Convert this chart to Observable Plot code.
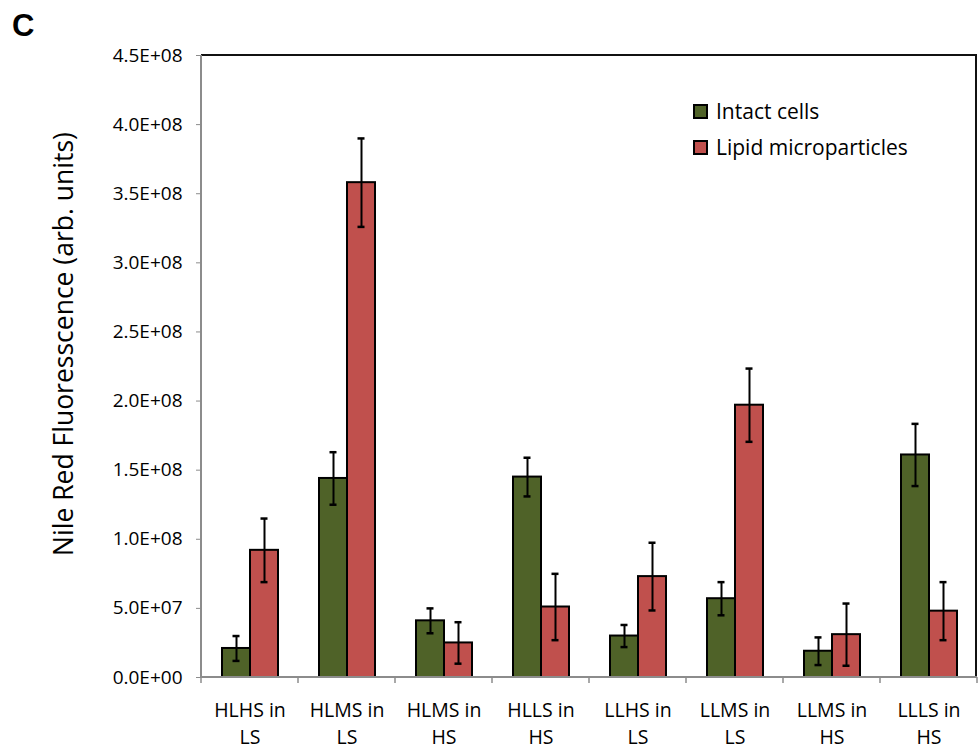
<!DOCTYPE html>
<html><head><meta charset="utf-8">
<script src="https://cdn.jsdelivr.net/npm/d3@7"></script>
<script src="https://cdn.jsdelivr.net/npm/@observablehq/plot@0.6"></script>
<style>
body{margin:0;background:#fff;}
#wrap{position:relative;width:979px;height:750px;font-family:"Open Sans",sans-serif;}
#panel{position:absolute;left:12px;top:8px;font:bold 31px "Liberation Sans",Arial,sans-serif;color:#000;}
#ylab{position:absolute;left:63px;top:344px;transform:translate(-50%,-50%) rotate(-90deg);white-space:nowrap;font-size:26.5px;color:#000;}
#legend{position:absolute;left:693px;top:93px;font-size:21px;color:#000;}
#legend .row{display:flex;align-items:center;height:36px;}
#legend .sw{width:11px;height:11px;border:2px solid #000;margin-right:8px;}
</style></head>
<body><div id="wrap"><div id="chart"></div><div id="panel">C</div><div id="ylab">Nile Red Fluoresscence (arb. units)</div><div id="legend"></div></div>
<script>
const categories = ["HLHS in LS","HLMS in LS","HLMS in HS","HLLS in HS","LLHS in LS","LLMS in LS","LLMS in HS","LLLS in HS"];
const tickLabels = ["HLHS in\nLS","HLMS in\nLS","HLMS in\nHS","HLLS in\nHS","LLHS in\nLS","LLMS in\nLS","LLMS in\nHS","LLLS in\nHS"];
const series = ["Intact cells","Lipid microparticles"];
const colors = ["#4F6228","#C0504D"];
const intact = [2.1e7, 1.44e8, 4.1e7, 1.45e8, 3.0e7, 5.7e7, 1.9e7, 1.61e8];
const intactErr = [0.9e7, 1.9e7, 0.9e7, 1.4e7, 0.8e7, 1.2e7, 1.0e7, 2.25e7];
const lipid = [9.2e7, 3.58e8, 2.5e7, 5.1e7, 7.3e7, 1.97e8, 3.1e7, 4.8e7];
const lipidErr = [2.3e7, 3.2e7, 1.5e7, 2.4e7, 2.45e7, 2.65e7, 2.25e7, 2.1e7];
const yTicks = [0, 5e7, 1e8, 1.5e8, 2e8, 2.5e8, 3e8, 3.5e8, 4e8, 4.5e8];

const rows = [];
categories.forEach((c, i) => {
  rows.push({cat: c, series: series[0], value: intact[i], err: intactErr[i]});
  rows.push({cat: c, series: series[1], value: lipid[i], err: lipidErr[i]});
});
const labelOf = Object.fromEntries(categories.map((c, i) => [c, tickLabels[i]]));
const fmt = d => { const [m, e] = d.toExponential(1).split("e"); return m + "E" + e[0] + e.slice(1).padStart(2, "0"); };

const chart = Plot.plot({
  width: 979, height: 750,
  marginTop: 55, marginLeft: 200, marginRight: 2, marginBottom: 73,
  style: {fontFamily: "'Open Sans', sans-serif", background: "white"},
  fx: {domain: categories, padding: 0, label: null, axis: null},
  x: {domain: series, paddingInner: 0, paddingOuter: 0.7, axis: null},
  y: {domain: [0, 4.5e8], axis: null},
  color: {domain: series, range: colors},
  marks: [
    Plot.axisY({ticks: yTicks, tickFormat: fmt, tickSize: 5, tickPadding: 14, fontSize: 19, stroke: "#8c8c8c", fill: "black", label: null}),
    Plot.axisFx({anchor: "bottom", tickSize: 0, tickPadding: 20, fontSize: 19.5, lineHeight: 1.4, tickFormat: d => labelOf[d], label: null, fill: "black"}),
    Plot.barY(rows, {fx: "cat", x: "series", y: "value", fill: "series", stroke: "black", strokeWidth: 2}),
    Plot.ruleX(rows, {fx: "cat", x: "series", y1: d => d.value - d.err, y2: d => d.value + d.err, stroke: "black", strokeWidth: 2}),
    Plot.tickY(rows, {fx: "cat", x: "series", y: d => d.value + d.err, stroke: "black", strokeWidth: 2.5, insetLeft: 10.5, insetRight: 10.5}),
    Plot.tickY(rows, {fx: "cat", x: "series", y: d => d.value - d.err, stroke: "black", strokeWidth: 2.5, insetLeft: 10.5, insetRight: 10.5})
  ]
});
document.getElementById("chart").appendChild(chart);

const svg = d3.select(chart);
// make sure the axis label sizes hold
svg.selectAll('[aria-label="y-axis tick label"]').attr("font-size", 19).selectAll("text").attr("font-size", null);
svg.selectAll('[aria-label="fx-axis tick label"]').attr("font-size", 19.5).selectAll("text").attr("font-size", null);

// frame, axis lines and category boundary ticks from the library's scales
const fx = chart.scale("fx"), ys = chart.scale("y");
const x0 = fx.apply(categories[0]);
const x1 = fx.apply(categories[categories.length - 1]) + fx.bandwidth;
const yTop = ys.apply(4.5e8), yBot = ys.apply(0);
const g = svg.append("g");
g.append("line").attr("x1", x0).attr("x2", x1).attr("y1", yTop).attr("y2", yTop).attr("stroke", "#111").attr("stroke-width", 2);
g.append("line").attr("x1", x1 - 1).attr("x2", x1 - 1).attr("y1", yTop).attr("y2", yBot).attr("stroke", "#111").attr("stroke-width", 2);
g.append("line").attr("x1", x0).attr("x2", x0).attr("y1", yTop).attr("y2", yBot).attr("stroke", "#8c8c8c").attr("stroke-width", 2);
g.append("line").attr("x1", x0).attr("x2", x1).attr("y1", yBot).attr("y2", yBot).attr("stroke", "#8c8c8c").attr("stroke-width", 2);
categories.concat([null]).forEach((c, i) => {
  const x = c === null ? x1 : fx.apply(c);
  g.append("line").attr("x1", x).attr("x2", x).attr("y1", yBot).attr("y2", yBot + 6).attr("stroke", "#8c8c8c").attr("stroke-width", 1.5);
});

// legend
const leg = d3.select("#legend");
series.forEach((s, i) => {
  const r = leg.append("div").attr("class", "row");
  r.append("div").attr("class", "sw").style("background", colors[i]);
  r.append("span").text(s);
});
</script>
</body></html>
